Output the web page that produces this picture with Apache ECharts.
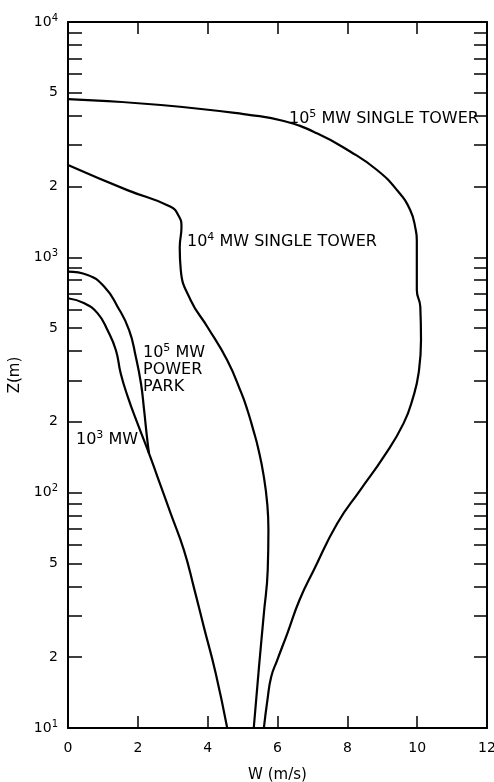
<!DOCTYPE html>
<html>
<head>
<meta charset="utf-8">
<script src="https://cdn.jsdelivr.net/npm/echarts@6/dist/echarts.min.js"></script>
<style>
html,body{margin:0;padding:0;background:#fff;}
#chart{width:494px;height:782px;}
</style>
</head>
<body>
<div id="chart"></div>
<script>
// ---- Data ----
const towerHighW = [0, 2.66, 5.23, 6.18, 7.13, 8.09, 8.85, 9.42, 9.8, 9.96, 9.99, 9.99, 10.09, 10.11, 10.04, 9.89, 9.61, 9.04, 8.37, 7.71, 7.04, 6.63, 6.28, 5.99, 5.82, 5.71, 5.61];
const towerHighZ = [4700, 4440, 4024, 3796, 3365, 2810, 2350, 1932, 1589, 1306, 1185, 726, 617, 445, 321, 256, 197, 142, 102.6, 74, 46.9, 35.0, 25.2, 19.4, 16.5, 13.1, 10];

const towerMidW = [0, 1.7, 2.94, 3.18, 3.25, 3.2, 3.23, 3.51, 3.99, 4.56, 4.97, 5.14, 5.31, 5.44, 5.6, 5.71, 5.74, 5.72, 5.61, 5.47, 5.32];
const towerMidZ = [2470, 1930, 1640, 1490, 1349, 1100, 883, 659, 507, 365, 264, 224, 184, 156, 119, 88.5, 69.4, 46.9, 30.7, 18.2, 10];

const parkW = [0, 0.56, 1.04, 1.42, 1.75, 1.94, 2.09, 2.18, 2.26, 2.32];
const parkZ = [870, 842, 750, 617, 491, 379, 291, 224, 173, 147];

const smallW = [0, 0.47, 0.85, 1.13, 1.37, 1.51, 1.71, 1.99, 2.32, 2.56, 2.94, 3.32, 3.61, 3.89, 4.23, 4.56];
const smallZ = [670, 638, 578, 491, 404, 321, 256, 197, 147, 117, 81.7, 57, 39.3, 26.9, 17.1, 10];

const yTickValues = [10,20,30,40,50,60,70,80,90,100,200,300,400,500,600,700,800,900,1000,2000,3000,4000,5000,6000,7000,8000,9000,10000];
const yLabelValues = [10,20,50,100,200,500,1000,2000,5000,10000];

// ---- Chart ----
const FONT = 'DejaVu Sans';
const chart = echarts.init(document.getElementById('chart'), null, {renderer:'canvas'});
const pair = (xs, ys) => xs.map((x, i) => [x, ys[i]]);
const lg = v => Math.log10(v);

const axisRich = {
  b: {fontFamily: FONT, fontSize: 14, color: '#000', lineHeight: 18},
  s: {fontFamily: FONT, fontSize: 10, color: '#000', lineHeight: 18, padding: [0, 0, 8, 0]}
};
const noteRich = {
  b: {fontFamily: FONT, fontSize: 16, color: '#000', lineHeight: 20},
  s: {fontFamily: FONT, fontSize: 11, color: '#000', lineHeight: 20, padding: [0, 0, 9, 0]}
};
const parkRich = {
  b: {fontFamily: FONT, fontSize: 16, color: '#000', lineHeight: 16.7},
  s: {fontFamily: FONT, fontSize: 11, color: '#000', lineHeight: 16.7, padding: [0, 0, 9, 0]}
};

function lineSeries(name, xs, ys) {
  return {
    name, type: 'line', xAxisIndex: 0, yAxisIndex: 0,
    data: pair(xs, ys), smooth: 0.5, showSymbol: false, symbol: 'none',
    lineStyle: {color: '#000', width: 2.2}, silent: true, animation: false
  };
}

const option = {
  animation: false,
  backgroundColor: '#fff',
  grid: {left: 68, right: 7, top: 22, bottom: 54, containLabel: false, outerBoundsMode: 'none'},
  xAxis: [
    {type: 'value', min: 0, max: 12, interval: 2, position: 'bottom',
     name: 'W (m/s)', nameLocation: 'middle', nameGap: 40,
     nameTextStyle: {fontFamily: FONT, fontSize: 15, color: '#000'},
     axisLine: {show: true, lineStyle: {color: '#000', width: 2}},
     axisTick: {show: true, inside: true, length: 12, lineStyle: {color: '#000', width: 1.5}},
     axisLabel: {show: true, margin: 13, fontFamily: FONT, fontSize: 14, color: '#000'},
     splitLine: {show: false}},
    {type: 'value', min: 0, max: 12, interval: 2, position: 'top',
     axisLine: {show: true, lineStyle: {color: '#000', width: 2}},
     axisTick: {show: true, inside: true, length: 12, lineStyle: {color: '#000', width: 1.5}},
     axisLabel: {show: false}, splitLine: {show: false}}
  ],
  yAxis: [
    {type: 'log', logBase: 10, min: 10, max: 10000, position: 'left',
     axisLine: {show: true, lineStyle: {color: '#000', width: 2}},
     axisTick: {show: false}, axisLabel: {show: false}, splitLine: {show: false}, minorTick: {show: false}},
    {type: 'value', min: 1, max: 4, position: 'left',
     name: 'Z(m)', nameLocation: 'middle', nameGap: 40, nameRotate: 90,
     nameTextStyle: {fontFamily: FONT, fontSize: 15, color: '#000'},
     axisLine: {show: false},
     axisTick: {show: true, inside: true, length: 14, lineStyle: {color: '#000', width: 1.5},
                customValues: yTickValues.map(lg)},
     axisLabel: {show: true, margin: 10, customValues: yLabelValues.map(lg),
       fontFamily: FONT, fontSize: 14, color: '#000',
       formatter: function (v) {
         const e = Math.floor(v + 1e-9);
         const m = Math.round(Math.pow(10, v - e));
         if (m === 1) return '{b|10}{s|' + e + '}';
         return '{b|' + m + '}';
       },
       rich: axisRich},
     splitLine: {show: false}},
    {type: 'value', min: 1, max: 4, position: 'right',
     axisLine: {show: true, lineStyle: {color: '#000', width: 2}},
     axisTick: {show: true, inside: true, length: 13, lineStyle: {color: '#000', width: 1.5},
                customValues: yTickValues.map(lg)},
     axisLabel: {show: false}, splitLine: {show: false}}
  ],
  series: [
    lineSeries('1e5 MW single tower', towerHighW, towerHighZ),
    lineSeries('1e4 MW single tower', towerMidW, towerMidZ),
    lineSeries('1e5 MW power park', parkW, parkZ),
    lineSeries('1e3 MW', smallW, smallZ)
  ],
  graphic: [
    {type: 'text', left: 289, top: 109, silent: true,
     style: {text: '{b|10}{s|5}{b| MW SINGLE TOWER}', rich: noteRich}},
    {type: 'text', left: 187, top: 232, silent: true,
     style: {text: '{b|10}{s|4}{b| MW SINGLE TOWER}', rich: noteRich}},
    {type: 'text', left: 143, top: 343, silent: true,
     style: {text: '{b|10}{s|5}{b| MW}\n{b|POWER}\n{b|PARK}', rich: parkRich}},
    {type: 'text', left: 76, top: 430, silent: true,
     style: {text: '{b|10}{s|3}{b| MW}', rich: noteRich}}
  ]
};
chart.setOption(option);
</script>
</body>
</html>
